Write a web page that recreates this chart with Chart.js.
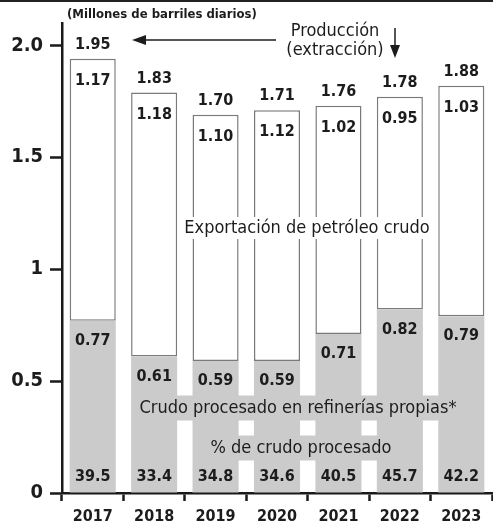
<!DOCTYPE html>
<html>
<head>
<meta charset="utf-8">
<script src="https://cdn.jsdelivr.net/npm/chart.js@4"></script>
<style>
  html, body { margin: 0; padding: 0; background: #fff; }
  #wrap { width: 493px; height: 527px; position: relative; }
</style>
</head>
<body>
<div id="wrap"><canvas id="c"></canvas></div>
<script>
// ---- data ----
const categorias = ['2017', '2018', '2019', '2020', '2021', '2022', '2023'];
const procesado = [0.77, 0.61, 0.59, 0.59, 0.71, 0.82, 0.79];      // Crudo procesado en refinerías propias
const exportacion = [1.17, 1.18, 1.10, 1.12, 1.02, 0.95, 1.03];    // Exportación de petróleo crudo
const produccion = [1.95, 1.83, 1.70, 1.71, 1.76, 1.78, 1.88];     // Producción (extracción)
const porcentaje = [39.5, 33.4, 34.8, 34.6, 40.5, 45.7, 42.2];     // % de crudo procesado
const yTickValues = [0, 0.5, 1, 1.5, 2];
const yTickLabels = ['0', '0.5', '1', '1.5', '2.0'];

const FONT = "'DejaVu Sans Condensed', 'Liberation Sans Narrow', 'DejaVu Sans', sans-serif";
const INK = '#1c1c1c';
const GRAY = '#cbcbcb';

const annotations = {
  id: 'annotations',
  afterDatasetsDraw(chart) {
    const ctx = chart.ctx;
    const m0 = chart.getDatasetMeta(0);
    const m1 = chart.getDatasetMeta(1);
    ctx.save();

    // top rule
    ctx.strokeStyle = '#222';
    ctx.lineWidth = 2;
    ctx.beginPath(); ctx.moveTo(0, 1); ctx.lineTo(chart.width, 1); ctx.stroke();

    // unit label
    ctx.fillStyle = INK;
    ctx.textBaseline = 'middle';
    ctx.textAlign = 'left';
    ctx.font = `bold 13px ${FONT}`;
    ctx.fillText('(Millones de barriles diarios)', 67, 15);

    // Producción label and arrows
    ctx.textAlign = 'center';
    ctx.font = `18px ${FONT}`;
    ctx.fillText('Producción', 335, 31);
    ctx.fillText('(extracción)', 335, 50);

    ctx.strokeStyle = INK; ctx.lineWidth = 1.5;
    ctx.beginPath(); ctx.moveTo(276, 40); ctx.lineTo(144, 40); ctx.stroke();
    ctx.beginPath(); ctx.moveTo(132, 40); ctx.lineTo(146, 35); ctx.lineTo(146, 45); ctx.closePath(); ctx.fill();
    ctx.beginPath(); ctx.moveTo(395, 28); ctx.lineTo(395, 48); ctx.stroke();
    ctx.beginPath(); ctx.moveTo(395, 58); ctx.lineTo(390, 45); ctx.lineTo(400, 45); ctx.closePath(); ctx.fill();

    // value labels
    ctx.font = `bold 16px ${FONT}`;
    ctx.fillStyle = INK;
    for (let i = 0; i < categorias.length; i++) {
      const b0 = m0.data[i];
      const b1 = m1.data[i];
      const x = b1.x;
      ctx.fillText(produccion[i].toFixed(2), x, b1.y - 14);
      ctx.fillText(exportacion[i].toFixed(2), x, b1.y + 22);
      ctx.fillText(procesado[i].toFixed(2), x, b0.y + 20);
      ctx.fillText(porcentaje[i].toFixed(1), x, chart.chartArea.bottom - 16);
    }

    // series labels with background boxes
    const labelBox = (text, cx, cy, bg, font, padX, h) => {
      ctx.font = font;
      const w = ctx.measureText(text).width;
      ctx.fillStyle = bg;
      ctx.fillRect(cx - w / 2 - padX, cy - h / 2, w + 2 * padX, h);
      ctx.fillStyle = INK;
      ctx.fillText(text, cx, cy);
    };
    labelBox('Exportación de petróleo crudo', 307, 228, '#ffffff', `18px ${FONT}`, 3, 22);
    labelBox('Crudo procesado en refinerías propias*', 298, 408, GRAY, `18px ${FONT}`, 3, 25);
    labelBox('% de crudo procesado', 301, 448, GRAY, `18px ${FONT}`, 3, 25);

    ctx.restore();
  }
};

new Chart(document.getElementById('c'), {
  type: 'bar',
  data: {
    labels: categorias,
    datasets: [
      {
        label: 'Crudo procesado en refinerías propias',
        data: procesado,
        backgroundColor: GRAY,
        borderWidth: 0,
        barPercentage: 0.75,
        categoryPercentage: 1
      },
      {
        label: 'Exportación de petróleo crudo',
        data: exportacion,
        backgroundColor: '#ffffff',
        borderColor: '#7a7a7a',
        borderWidth: 1.5,
        borderSkipped: false,
        barPercentage: 0.75,
        categoryPercentage: 1
      }
    ]
  },
  options: {
    responsive: true,
    maintainAspectRatio: false,
    animation: false,
    events: [],
    layout: { padding: { top: 23, right: 1, left: 0, bottom: 0 } },
    plugins: { legend: { display: false }, tooltip: { enabled: false } },
    scales: {
      x: {
        stacked: true,
        border: { display: true, color: '#1a1a1a', width: 2.5 },
        grid: { display: true, offset: true, drawOnChartArea: false, drawTicks: true, tickLength: 8, tickWidth: 2.5, tickColor: '#1a1a1a' },
        ticks: { color: INK, padding: 6, font: { family: FONT, size: 16, weight: 'bold' }, maxRotation: 0 },
        afterFit(scale) { scale.height = 34; }
      },
      y: {
        stacked: true,
        min: 0,
        max: 2.1,
        border: { display: true, color: '#1a1a1a', width: 2.5 },
        grid: { display: true, drawOnChartArea: false, drawTicks: true, tickLength: 12, tickWidth: 2.5, tickColor: '#1a1a1a' },
        afterBuildTicks(scale) { scale.ticks = yTickValues.map(v => ({ value: v })); },
        ticks: {
          color: INK,
          padding: 7,
          font: { family: FONT, size: 20, weight: 'bold' },
          callback: (v) => { const k = yTickValues.indexOf(v); return k >= 0 ? yTickLabels[k] : ''; }
        },
        afterFit(scale) { scale.width = 62; }
      }
    }
  },
  plugins: [annotations]
});
</script>
</body>
</html>
